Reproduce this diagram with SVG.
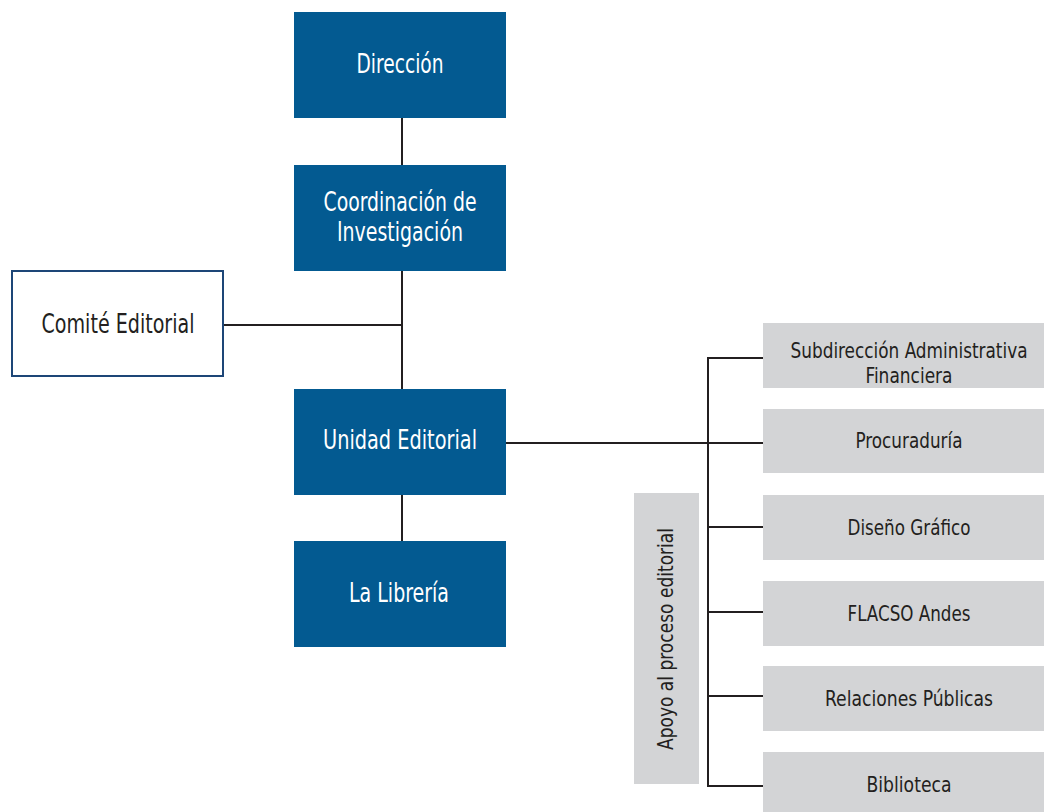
<svg xmlns="http://www.w3.org/2000/svg" width="1044" height="812" viewBox="0 0 1044 812">
<style>
text{font-family:"DejaVu Sans Condensed","Liberation Sans Narrow","Liberation Sans",sans-serif;font-size:26px;text-anchor:middle}
.blue rect{fill:#035a91}
.blue text{fill:#ffffff}
.gray rect{fill:#d3d4d6}
.gray text{fill:#231f20;font-size:22px}
.line{stroke:#231f20;stroke-width:2;fill:none}
</style>
<rect width="1044" height="812" fill="#ffffff"/>
<g id="connectors" class="line">
<line x1="402" y1="118" x2="402" y2="165"/>
<line x1="402" y1="271" x2="402" y2="389"/>
<line x1="224" y1="325" x2="402" y2="325"/>
<line x1="402" y1="495" x2="402" y2="541"/>
<line x1="506" y1="443" x2="763" y2="443"/>
<polyline points="763,358 708,358 708,786 763,786"/>
<line x1="708" y1="527" x2="763" y2="527"/>
<line x1="708" y1="612" x2="763" y2="612"/>
<line x1="708" y1="696" x2="763" y2="696"/>
</g>
<g id="direccion" class="blue"><rect x="294" y="12" width="212" height="106"/><text x="400" y="73" textLength="87" lengthAdjust="spacingAndGlyphs">Dirección</text></g>
<g id="coordinacion" class="blue"><rect x="294" y="165" width="212" height="106"/><text x="400" y="211" textLength="153" lengthAdjust="spacingAndGlyphs">Coordinación de</text><text x="400" y="241" textLength="126" lengthAdjust="spacingAndGlyphs">Investigación</text></g>
<g id="unidad" class="blue"><rect x="294" y="389" width="212" height="106"/><text x="400" y="449" textLength="154" lengthAdjust="spacingAndGlyphs">Unidad Editorial</text></g>
<g id="libreria" class="blue"><rect x="294" y="541" width="212" height="106"/><text x="399" y="602" textLength="100" lengthAdjust="spacingAndGlyphs">La Librería</text></g>
<g id="comite"><rect x="12" y="271" width="211" height="105" fill="#ffffff" stroke="#1d4677" stroke-width="2"/><text x="118" y="333" fill="#231f20" textLength="153" lengthAdjust="spacingAndGlyphs">Comité Editorial</text></g>
<g id="apoyo" class="gray"><rect x="634" y="493" width="65" height="291"/><text transform="translate(673,639) rotate(-90)" textLength="222" lengthAdjust="spacingAndGlyphs">Apoyo al proceso editorial</text></g>
<g id="subdireccion" class="gray"><rect x="763" y="323" width="281" height="65"/><text x="909" y="358" textLength="237" lengthAdjust="spacingAndGlyphs">Subdirección Administrativa</text><text x="909" y="383" textLength="87" lengthAdjust="spacingAndGlyphs">Financiera</text></g>
<g id="procuraduria" class="gray"><rect x="763" y="409" width="281" height="64"/><text x="909" y="448" textLength="107" lengthAdjust="spacingAndGlyphs">Procuraduría</text></g>
<g id="diseno" class="gray"><rect x="763" y="495" width="281" height="65"/><text x="909" y="535" textLength="123" lengthAdjust="spacingAndGlyphs">Diseño Gráfico</text></g>
<g id="flacso" class="gray"><rect x="763" y="581" width="281" height="65"/><text x="909" y="621" textLength="123" lengthAdjust="spacingAndGlyphs">FLACSO Andes</text></g>
<g id="relaciones" class="gray"><rect x="763" y="666" width="281" height="65"/><text x="909" y="706" textLength="168" lengthAdjust="spacingAndGlyphs">Relaciones Públicas</text></g>
<g id="biblioteca" class="gray"><rect x="763" y="752" width="281" height="60"/><text x="909" y="792" textLength="85" lengthAdjust="spacingAndGlyphs">Biblioteca</text></g>
</svg>
